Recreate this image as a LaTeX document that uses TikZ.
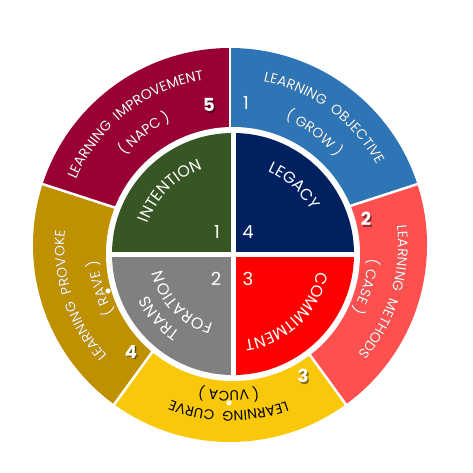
\documentclass[tikz,border=0pt]{standalone}
\usepackage{fontspec}
\setmainfont{Poppins}
\usetikzlibrary{decorations.text}
\definecolor{cmaroon}{HTML}{990033}
\definecolor{cblue}{HTML}{2E75B6}
\definecolor{csalmon}{HTML}{FF5050}
\definecolor{cyellow}{HTML}{FAC80A}
\definecolor{cgold}{HTML}{BF9000}
\definecolor{cgreen}{HTML}{375623}
\definecolor{cnavy}{HTML}{002060}
\definecolor{cred}{HTML}{FF0000}
\definecolor{cgray}{HTML}{808080}
% #1 centre, #2 mid angle, #3 baseline radius, #4 font size, #5 colour, #6 text
\newcommand\arctxt[6]{%
  \path[decorate,decoration={text along path,text={|\fontsize{#4}{#4}\selectfont|#6},
    text align=center,text color=#5}]
    (#1) ++(#2+50:#3) arc[start angle=#2+50,end angle=#2-50,radius=#3];}
\newcommand\arctxtsh[6]{%
  \begin{scope}[transparency group,opacity=.3,shift={(1.6,-1.6)}]
    \arctxt{#1}{#2}{#3}{#4}{black}{#6}
  \end{scope}
  \begin{scope}[transparency group,opacity=.25,shift={(0.6,-0.8)}]
    \arctxt{#1}{#2}{#3}{#4}{black}{#6}
  \end{scope}
  \arctxt{#1}{#2}{#3}{#4}{#5}{#6}}
\tikzset{
  num/.style={text=white,font=\fontsize{18}{18}\selectfont,inner sep=0pt},
  bnum/.style={num,font=\fontsize{18}{18}\selectfont\bfseries},
  shnum/.style={text=black,opacity=.45,font=\fontsize{18}{18}\selectfont\bfseries,inner sep=0pt},
  sep/.style={white,line width=2.5pt},
  gap/.style={white,line width=5pt}
}
\begin{document}
\begin{tikzpicture}[x=1pt,y=1pt]
\useasboundingbox (0,0) rectangle (473,472);
\coordinate (O) at (230,227);
\coordinate (I) at (233,218);
% outer ring segments
\foreach \a/\b/\c in {90/162/cmaroon,18/90/cblue,-54/18/csalmon,-126/-54/cyellow,162/234/cgold}
  \fill[\c] (O) -- ++(\a:197) arc[start angle=\a,end angle=\b,radius=197] -- cycle;
\foreach \a in {90,18,-54,-126,162}
  \draw[sep] (O) -- ++(\a:199);
% inner disc
\fill[white] (I) circle (127);
\foreach \a/\c in {90/cgreen,0/cnavy,270/cred,180/cgray}
  \fill[\c] (I) -- ++(\a:121) arc[start angle=\a,end angle=\a+90,radius=121] -- cycle;
\draw[gap] (I) ++(-123,0) -- ++(246,0);
\draw[gap] (I) ++(0,-123) -- ++(0,246);
% outer texts
\arctxtsh{O}{128}{167}{14}{white}{LEARNING {\ }IMPROVEMENT}
\arctxtsh{O}{127.5}{138}{14}{white}{( NAPC )}
\arctxtsh{O}{53.5}{167}{14}{white}{LEARNING {\ }OBJECTIVE}
\arctxtsh{O}{53}{137.5}{14}{white}{( GROW )}
\arctxtsh{O}{-17}{168}{14}{white}{LEARNING {\ }METHODS}
\arctxtsh{O}{-17}{139}{14}{white}{( CASE )}
\arctxt{O}{-90.5}{166}{14}{black}{LEARNING {\ }CURVE}
\arctxt{O}{-90.5}{146}{14}{black}{( VUCA )}
\arctxtsh{O}{198.5}{165.5}{14}{white}{LEARNING {\ }PROVOKE}
\arctxtsh{O}{198.5}{133.5}{14}{white}{( RAVE )}
% inner texts
\arctxt{I}{135}{90.5}{16}{white}{INTENTION}
\arctxt{I}{48}{89.5}{16}{white}{LEGACY}
\arctxt{I}{-47}{86.5}{16}{white}{COMMITMENT}
\arctxt{I}{221}{94.5}{16}{white}{TRANS}
\arctxt{I}{223.5}{72.5}{16}{white}{FORATION}
% inner numbers
\node[num] (i1) at (217,240) {1};
\node[num] (i4) at (248,240) {4};
\node[num] (i2) at (216,193) {2};
\node[num] (i3) at (248,193) {3};
% outer numbers
\node[shnum] (s5) at (210.5,365.5) {5};
\node[bnum] (o5) at (209,367) {5};
\node[num] (o1) at (246,369) {1};
\node[shnum] (s2) at (367.5,251.5) {2};
\node[bnum] (o2) at (366,253) {2};
\node[shnum] (s3) at (304.5,94.5) {3};
\node[bnum] (o3) at (303,96) {3};
\node[shnum] (s4) at (132.5,118.5) {4};
\node[bnum] (o4) at (131,120) {4};
% small dots
\fill[white] (108,181) circle (2.6);
\fill[white] (229,69) circle (2.6);
\end{tikzpicture}
\end{document}
